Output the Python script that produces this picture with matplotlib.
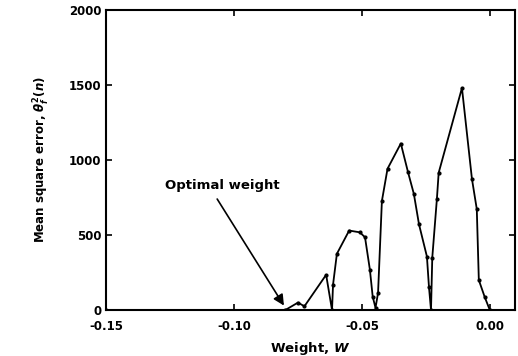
import matplotlib.pyplot as plt
from matplotlib.ticker import FormatStrFormatter

weight = [-0.15, -0.080, -0.075, -0.0725, -0.064, -0.0617, -0.0613, -0.0598, -0.055,
          -0.0508, -0.0488, -0.0469, -0.0458, -0.0447, -0.0437, -0.0422, -0.0400,
          -0.0348, -0.0320, -0.0297, -0.0277, -0.0246, -0.0238, -0.0230, -0.0225,
          -0.0207, -0.0200, -0.0109, -0.0070, -0.0051, -0.0043, -0.0020, 0.0]
mse = [0, 0, 50, 25, 235, 0, 170, 375, 530,
       518, 485, 270, 90, 15, 115, 727, 942,
       1110, 920, 774, 572, 357, 155, 0, 350,
       740, 915, 1480, 875, 673, 200, 87, 0]

plt.rcParams['font.family'] = ['DejaVu Sans']
plt.rcParams['font.weight'] = 'bold'
plt.rcParams['mathtext.default'] = 'it'

fig = plt.figure(figsize=(5.18, 3.56), dpi=100)
ax = fig.add_axes([0.205, 0.129, 0.789, 0.843])
ax.plot(weight, mse, color='black', lw=1.3, marker='o', ms=2)

ax.set_xlim(-0.15, 0.0098)
ax.set_ylim(0, 2000)
ax.set_xticks([-0.15, -0.10, -0.05, 0.00])
ax.set_yticks([0, 500, 1000, 1500, 2000])
ax.xaxis.set_major_formatter(FormatStrFormatter('%.2f'))
ax.tick_params(direction='in', top=True, right=True, labelsize=8.5, length=4, width=1.2)
ax.tick_params(axis='x', pad=7)
for s in ax.spines.values():
    s.set_linewidth(1.5)

ax.set_xlabel('Weight, $W$', fontsize=9.5, fontweight='bold', labelpad=5)
ax.set_ylabel(r'Mean square error, $\theta_f^2(n)$', fontsize=8.5, fontweight='bold', labelpad=12)

ax.text(-0.127, 790, 'Optimal weight', fontsize=9.5, fontweight='bold', ha='left', va='bottom')
ax.annotate('', xy=(-0.0805, 30), xytext=(-0.1066, 740),
            arrowprops=dict(arrowstyle='-|>', color='black', lw=1.2, mutation_scale=16,
                            shrinkA=0, shrinkB=0))

plt.savefig('out.png', dpi=100)
